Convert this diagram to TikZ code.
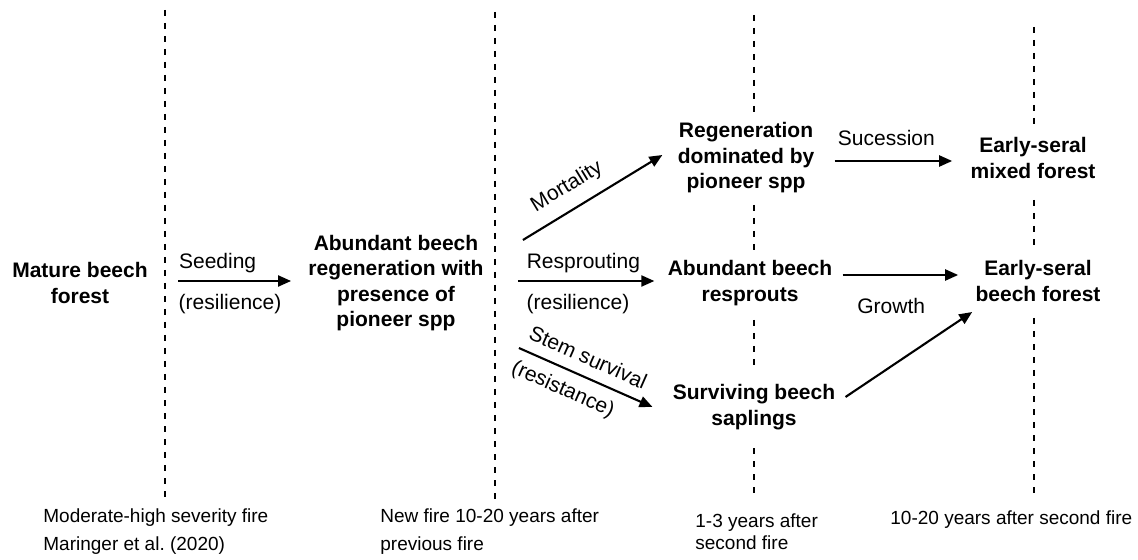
\documentclass[tikz,border=0pt]{standalone}
\usepackage{fontspec}
\setmainfont{Liberation Sans}
\usetikzlibrary{arrows.meta}

\begin{document}
\begin{tikzpicture}[x=0.5pt,y=-0.5pt,font=\fontsize{10.5}{12.75}\selectfont]
\tikzstyle{stage}=[align=center,inner sep=0pt,font=\fontsize{10.5}{12.75}\selectfont\bfseries]
\tikzstyle{flow}=[-{Triangle[length=6.5pt,width=5.5pt]},line width=1.05pt]
\tikzstyle{divider}=[dash pattern=on 3pt off 3.5pt,line width=0.8pt]
\tikzstyle{period}=[align=left,anchor=west,inner sep=0pt,font=\fontsize{9.5}{14}\selectfont]
\useasboundingbox (0,0) rectangle (1138,560);

% time dividers
\draw[divider] (165,10) -- (165,500);
\draw[divider] (495,12) -- (495,500);
\draw[divider] (754,15) -- (754,117);
\draw[divider] (754,205) -- (754,257);
\draw[divider] (754,320) -- (754,372);
\draw[divider] (754,448) -- (754,500);
\draw[divider] (1034,27) -- (1034,127);
\draw[divider] (1034,200) -- (1034,252);
\draw[divider] (1034,318) -- (1034,500);

% stages
\node[stage] (mature) at (80,283) {Mature beech\\forest};
\node[stage] (regen) [right of=mature,node distance=158pt] {Abundant beech\\regeneration with\\presence of\\pioneer spp};
\node[stage] (resprout) [right of=regen,node distance=177pt] {Abundant beech\\resprouts};
\node[stage] (pioneer) [above of=resprout,node distance=62.5pt,xshift=-2pt] {Regeneration\\dominated by\\pioneer spp};
\node[stage] (saplings) [below of=resprout,node distance=62pt,xshift=2pt] {Surviving beech\\saplings};
\node[stage] (beech) [right of=resprout,node distance=144pt,yshift=1pt] {Early-seral\\beech forest};
\node[stage] (mixed) [right of=pioneer,node distance=143.5pt] {Early-seral\\mixed forest};

% transitions
\path ([xshift=15pt,yshift=1pt]mature.east) edge[flow] node[above,pos=0.35] {Seeding} node[below=3pt,pos=0.46] {(resilience)} ([xshift=-8.5pt,yshift=1pt]regen.west);

\path ([xshift=19.5pt,yshift=21.5pt]regen.east) edge[flow] node[above=2.5pt,sloped,pos=0.4] {Mortality} ([xshift=-7.5pt,yshift=1.5pt]pioneer.west);
\path ([xshift=17pt,yshift=1pt]regen.east) edge[flow] node[above,pos=0.48] {Resprouting} node[below=3pt,pos=0.44] {(resilience)} ([xshift=-6.5pt,yshift=1pt]resprout.west);
\path ([xshift=17.5pt,yshift=-32.5pt]regen.east) edge[flow] node[above=2pt,sloped,pos=0.46] {Stem survival} node[below=1.5pt,sloped,pos=0.39] {(resistance)} ([xshift=-10pt]saplings.west);

\path ([xshift=10pt,yshift=-1.5pt]pioneer.east) edge[flow] node[above=4pt,pos=0.44] {Sucession} ([xshift=-9pt,yshift=-1.5pt]mixed.west);
\path ([xshift=5pt,yshift=4pt]resprout.east) edge[flow] node[below=8pt,pos=0.42] {Growth} ([xshift=-8.5pt,yshift=3pt]beech.west);
\path ([xshift=5pt,yshift=5pt]saplings.east) edge[flow] ([xshift=-1.5pt,yshift=-15.5pt]beech.west);

% time labels
\node[period] (fire1) at (43,532) {Moderate-high severity fire\\Maringer et al.\ (2020)};
\node[period] (fire2) at (380,532) {New fire 10-20 years after\\previous fire};
\node[period,font=\fontsize{9.5}{11}\selectfont] (after1) at (695,532) {1-3 years after\\second fire};
\node[period] (after2) at (890,520) {10-20 years after second fire};

\end{tikzpicture}
\end{document}
